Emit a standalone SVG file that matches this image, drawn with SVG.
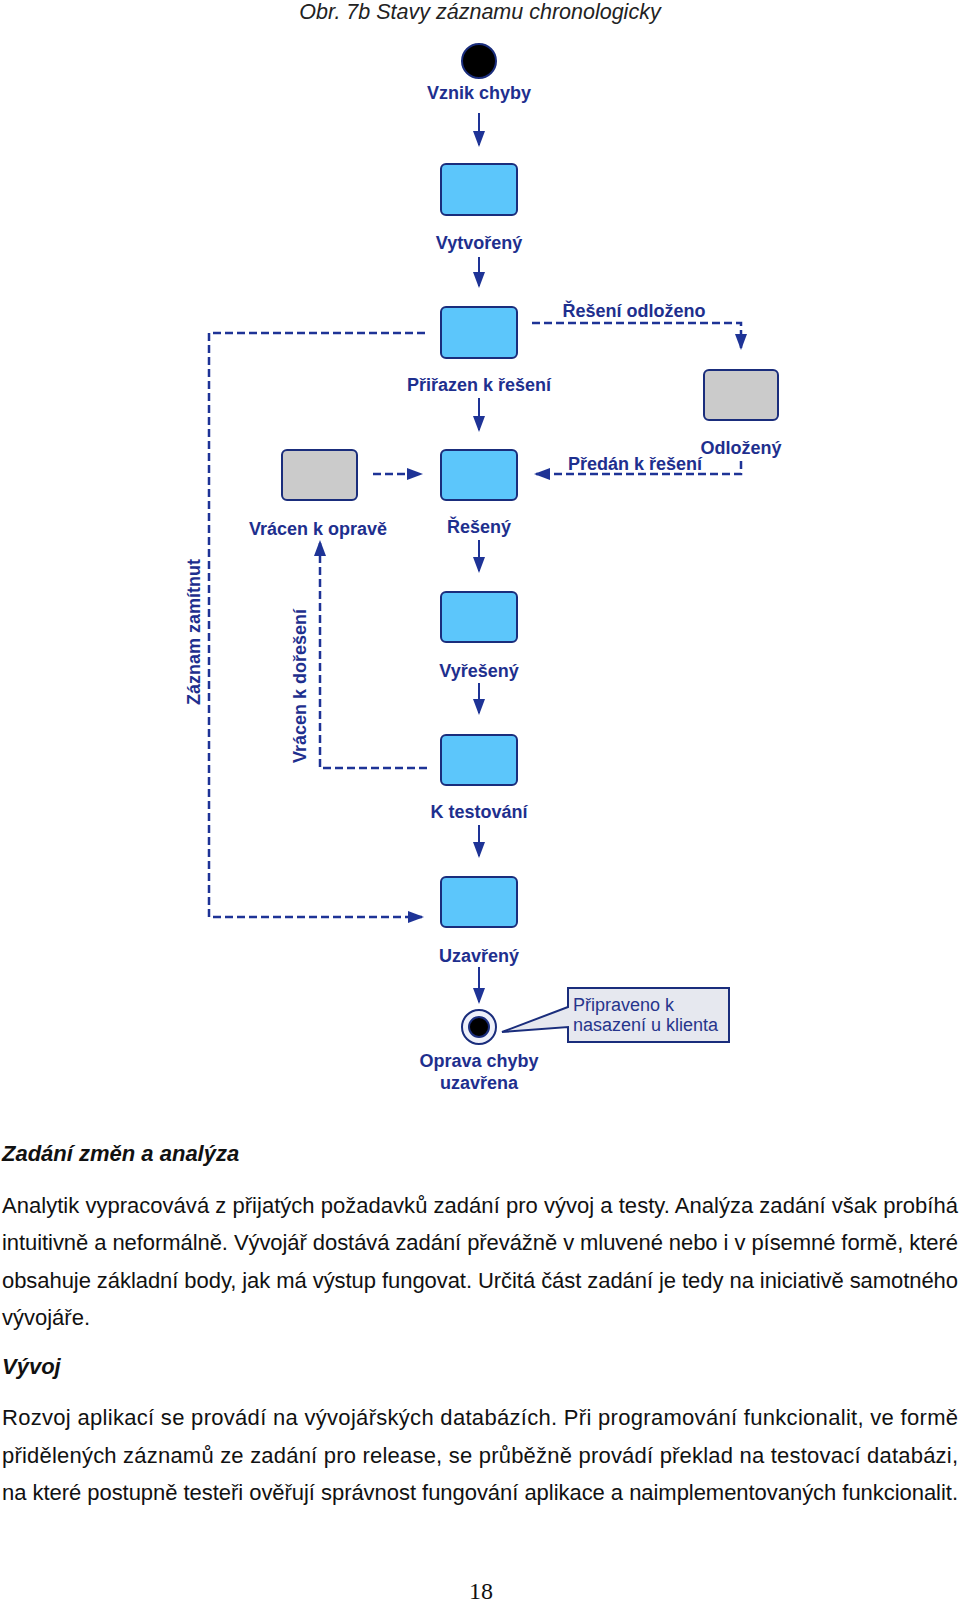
<svg xmlns="http://www.w3.org/2000/svg" width="960" height="1601" viewBox="0 0 960 1601">
<style>
.lbl{font-family:"Liberation Sans",Arial,sans-serif;font-weight:bold;font-size:18px;fill:#1e2f8e;text-anchor:middle}
.st{fill:#5cc6fb;stroke:#1a2d7c;stroke-width:2}
.gr{fill:#cbcbcb;stroke:#1a2d7c;stroke-width:2}
.sol{stroke:#1e3396;stroke-width:2;fill:none}
.dash{stroke:#1e3396;stroke-width:2.5;fill:none;stroke-dasharray:8 4}
.body{font-family:"Liberation Sans",Arial,sans-serif;font-size:22px;fill:#111}
.head{font-family:"Liberation Sans",Arial,sans-serif;font-size:22px;font-weight:bold;font-style:italic;fill:#111}
.note{font-family:"Liberation Sans",Arial,sans-serif;font-size:18px;fill:#26358c}
</style>
<defs>
<marker id="ah" markerWidth="16" markerHeight="12" refX="14" refY="6" orient="auto" markerUnits="userSpaceOnUse">
<path d="M0,0 L16,6 L0,12 z" fill="#1e3396"/>
</marker>
</defs>
<text x="480" y="19" text-anchor="middle" font-family="Liberation Sans, Arial, sans-serif" font-size="21.5" font-style="italic" fill="#222">Obr. 7b Stavy záznamu chronologicky</text>
<g id="start">
<circle cx="479" cy="61" r="17" fill="#000" stroke="#1a2d7c" stroke-width="2"/>
<text class="lbl" x="479" y="99">Vznik chyby</text>
</g>
<g id="vytvoreny">
<rect class="st" x="441" y="164" width="76" height="51" rx="5"/>
<text class="lbl" x="479" y="249">Vytvořený</text>
</g>
<g id="prirazen">
<rect class="st" x="441" y="307" width="76" height="51" rx="5"/>
<text class="lbl" x="479" y="391">Přiřazen k řešení</text>
</g>
<g id="odlozeny">
<rect class="gr" x="704" y="370" width="74" height="50" rx="5"/>
<text class="lbl" x="741" y="454">Odložený</text>
</g>
<g id="vracen">
<rect class="gr" x="282" y="450" width="75" height="50" rx="5"/>
<text class="lbl" x="318" y="535">Vrácen k opravě</text>
</g>
<g id="reseny">
<rect class="st" x="441" y="450" width="76" height="50" rx="5"/>
<text class="lbl" x="479" y="533">Řešený</text>
</g>
<g id="vyreseny">
<rect class="st" x="441" y="592" width="76" height="50" rx="5"/>
<text class="lbl" x="479" y="677">Vyřešený</text>
</g>
<g id="ktestovani">
<rect class="st" x="441" y="735" width="76" height="50" rx="5"/>
<text class="lbl" x="479" y="818">K testování</text>
</g>
<g id="uzavreny">
<rect class="st" x="441" y="877" width="76" height="50" rx="5"/>
<text class="lbl" x="479" y="962">Uzavřený</text>
</g>
<g id="end">
<circle cx="479" cy="1027" r="17" fill="#eef0fa" stroke="#1a2d7c" stroke-width="2"/>
<circle cx="479" cy="1027" r="10" fill="#000" stroke="#1a2d7c" stroke-width="2"/>
<text class="lbl" x="479" y="1067">Oprava chyby</text>
<text class="lbl" x="479" y="1089">uzavřena</text>
</g>
<g id="poznamka">
<path d="M568,988 H729 V1042 H568 V1027 L502,1032 L568,1007 Z" fill="#e6e8ef" stroke="#1a2d7c" stroke-width="2"/>
<text class="note" x="573" y="1011">Připraveno k</text>
<text class="note" x="573" y="1031">nasazení u klienta</text>
</g>
<g id="connectors">
<path class="sol" d="M479,113 V145" marker-end="url(#ah)"/>
<path class="sol" d="M479,257 V286" marker-end="url(#ah)"/>
<path class="sol" d="M479,398 V430" marker-end="url(#ah)"/>
<path class="sol" d="M479,540 V571" marker-end="url(#ah)"/>
<path class="sol" d="M479,683 V713" marker-end="url(#ah)"/>
<path class="sol" d="M479,825 V856" marker-end="url(#ah)"/>
<path class="sol" d="M479,967 V1002" marker-end="url(#ah)"/>
<path class="dash" d="M532,323 H741 V348" marker-end="url(#ah)"/>
<text class="lbl" x="634" y="317">Řešení odloženo</text>
<path class="dash" d="M741,461 V474 H536" marker-end="url(#ah)"/>
<text class="lbl" x="635" y="470">Předán k řešení</text>
<path class="dash" d="M373,474 H421" marker-end="url(#ah)"/>
<path class="dash" d="M425,333 H209 V917 H422" marker-end="url(#ah)"/>
<text class="lbl" transform="translate(200,632) rotate(-90)">Záznam zamítnut</text>
<path class="dash" d="M427,768 H320 V542" marker-end="url(#ah)"/>
<text class="lbl" transform="translate(306,686) rotate(-90)">Vrácen k dořešení</text>
</g>
<text class="head" x="2" y="1161">Zadání změn a analýza</text>
<text class="body" x="2" y="1213" textLength="956" lengthAdjust="spacing">Analytik vypracovává z přijatých požadavků zadání pro vývoj a testy. Analýza zadání však probíhá</text>
<text class="body" x="2" y="1250" textLength="956" lengthAdjust="spacing">intuitivně a neformálně. Vývojář dostává zadání převážně v mluvené nebo i v písemné formě, které</text>
<text class="body" x="2" y="1288" textLength="956" lengthAdjust="spacing">obsahuje základní body, jak má výstup fungovat. Určitá část zadání je tedy na iniciativě samotného</text>
<text class="body" x="2" y="1325">vývojáře.</text>
<text class="head" x="2" y="1374">Vývoj</text>
<text class="body" x="2" y="1425" textLength="956" lengthAdjust="spacing">Rozvoj aplikací se provádí na vývojářských databázích. Při programování funkcionalit, ve formě</text>
<text class="body" x="2" y="1463" textLength="956" lengthAdjust="spacing">přidělených záznamů ze zadání pro release, se průběžně provádí překlad na testovací databázi,</text>
<text class="body" x="2" y="1500" textLength="956" lengthAdjust="spacing">na které postupně testeři ověřují správnost fungování aplikace a naimplementovaných funkcionalit.</text>
<text x="481" y="1599" text-anchor="middle" font-family="Liberation Serif, Times New Roman, serif" font-size="24" fill="#111">18</text>
</svg>
